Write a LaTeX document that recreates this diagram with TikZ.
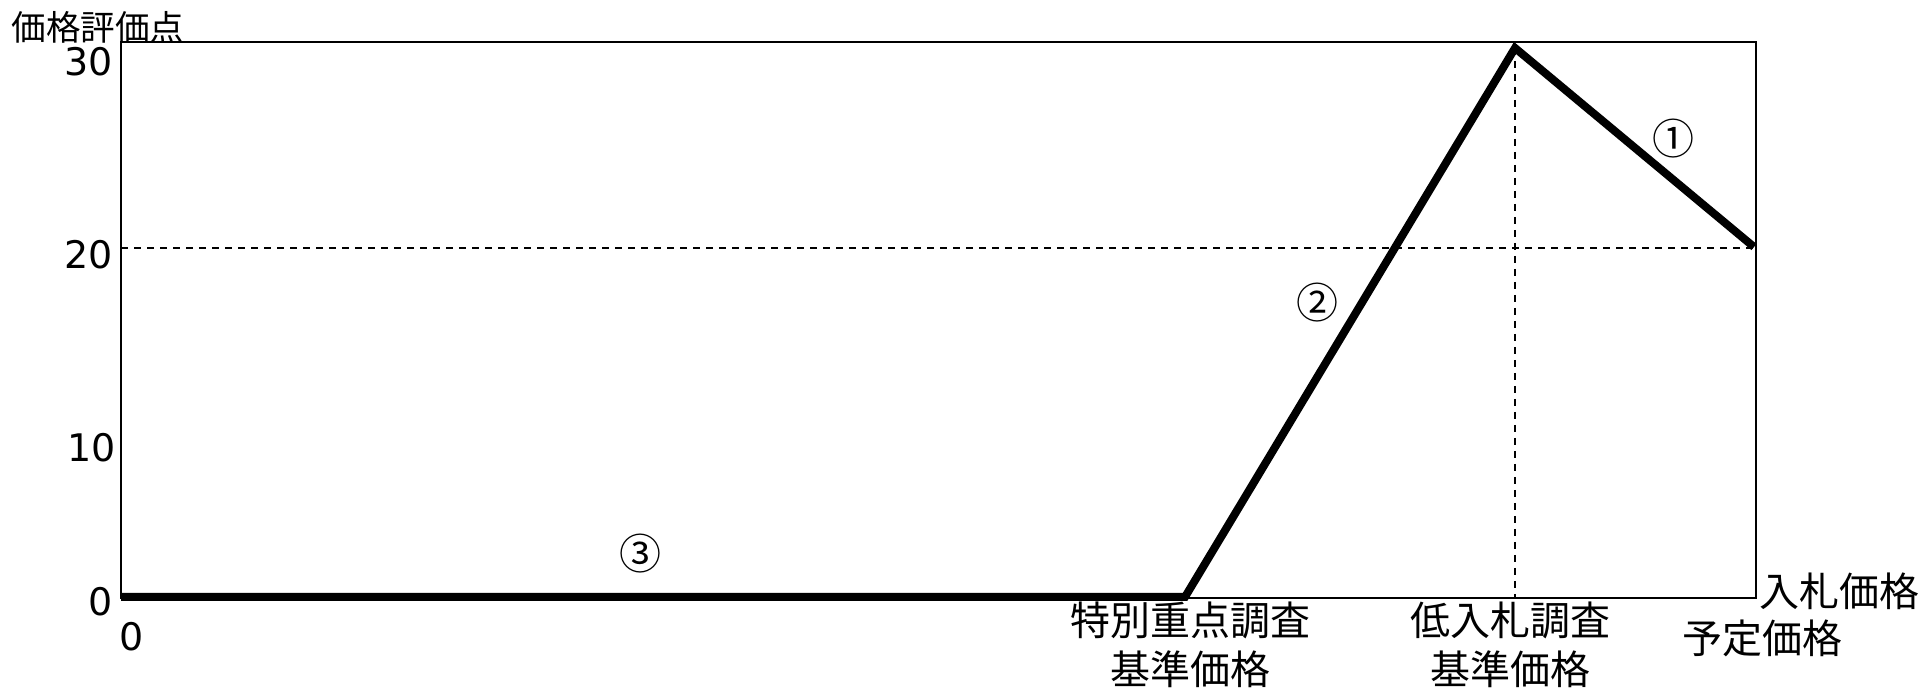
\documentclass[tikz,border=0pt]{standalone}
\usepackage{fontspec}
\setmainfont{Noto Sans CJK JP}
\newfontfamily\digitfont{DejaVu Sans}
\begin{document}
\begin{tikzpicture}[x=0.5pt, y=-0.5pt,
    lbl/.style={inner sep=0pt, align=center, font=\fontsize{20}{24.5}\selectfont},
    tick/.style={inner sep=0pt, font=\digitfont\fontsize{19}{22}\selectfont},
    segno/.style={inner sep=0pt, font=\fontsize{21}{24}\selectfont},
    frame/.style={line width=1pt},
    guide/.style={line width=0.8pt, dash pattern=on 3.5pt off 3pt},
    curve/.style={line width=4pt}]
    \useasboundingbox (0,0) rectangle (1926,688);

    % Frame of the plot
    \draw[frame] (121,42) rectangle (1756,598);

    % Points of the score curve
    \coordinate (origin) at (121,597);
    \coordinate (kink) at (1185,597);
    \coordinate (peak) at (1515,48);
    \coordinate (upper) at (1754,247);
    \coordinate (left20) at (121,248);
    \coordinate (right20) at (1756,248);
    \coordinate (foot) at (1515,598);

    % Dashed guides
    \draw[guide] (left20) -- (right20);
    \draw[guide] (peak) -- (foot);

    % Score curve
    \draw[curve] (origin) -- (kink) -- (peak) -- (upper);

    % Axis labels
    \node[inner sep=0pt, font=\fontsize{17.3}{20}\selectfont] (ytitle) at (98,27) {価格評価点};
    \node[tick] (y30) at (89,62) {30};
    \node[tick] (y20) at (89,255) {20};
    \node[tick] (y10) at (92,448) {10};
    \node[tick] (y0) at (101,602) {0};
    \node[tick] (x0) at (132,637) {0};

    % Price labels
    \node[lbl] (special) at (1190,645) {特別重点調査\\基準価格};
    \node[lbl] (lowbid) at (1510,645) {低入札調査\\基準価格};
    \node[lbl] (bid) at (1839,591) {入札価格};
    \node[lbl] (planned) at (1762,638) {予定価格};

    % Segment numbers
    \node[segno] (seg1) at (1673,139) {①};
    \node[segno] (seg2) at (1317,303) {②};
    \node[segno] (seg3) at (640,554) {③};
\end{tikzpicture}
\end{document}
